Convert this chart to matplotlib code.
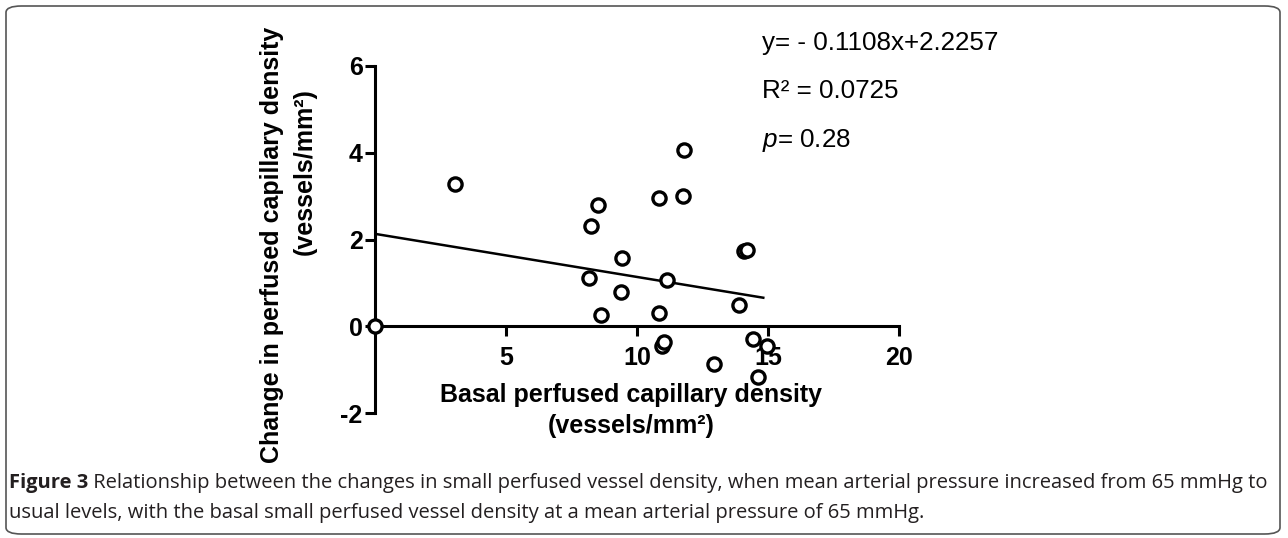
"""
Scatter of change vs basal perfused capillary density, with regression line
"""
import matplotlib.pyplot as plt
from matplotlib.patches import FancyBboxPatch

plt.rcParams['font.family'] = ['Liberation Sans', 'DejaVu Sans']
plt.rcParams['mathtext.fontset'] = 'custom'
plt.rcParams['mathtext.it'] = 'Liberation Sans:italic'
plt.rcParams['mathtext.rm'] = 'Liberation Sans'
plt.rcParams['axes.unicode_minus'] = False

###############################################################################
# Data
basal = [0.0, 3.05, 8.52, 8.23, 10.85, 11.77, 11.79, 9.42, 8.18, 11.13, 9.39,
         8.61, 10.84, 10.94, 11.03, 12.93, 14.10, 14.18, 13.90, 14.44, 14.95,
         14.63]
change = [0.0, 3.27, 2.80, 2.31, 2.95, 3.01, 4.05, 1.57, 1.12, 1.06, 0.79,
          0.27, 0.31, -0.44, -0.35, -0.87, 1.73, 1.76, 0.50, -0.29, -0.46,
          -1.17]

fit_x = [0.0, 14.82]
fit_y = [2.13, 0.66]

x_ticks = [5, 10, 15, 20]
y_ticks = [-2, 0, 2, 4, 6]

stats = ['y= - 0.1108x+2.2257', 'R² = 0.0725', '$p$= 0.28']

caption_bold = 'Figure 3'
caption_1 = (' Relationship between the changes in small perfused vessel density, '
             'when mean arterial pressure increased from 65 mmHg to')
caption_2 = ('usual levels, with the basal small perfused vessel density at a '
             'mean arterial pressure of 65 mmHg.')

###############################################################################
# Plot
W, H = 1288, 538
fig = plt.figure(figsize=(W / 100, H / 100), dpi=100)

# rounded frame around the whole figure
frame = FancyBboxPatch((6 / W, 4 / H), 1274 / W, 528 / H,
                       boxstyle='round,pad=0,rounding_size=0.012',
                       transform=fig.transFigure, fill=False,
                       edgecolor='#555555', linewidth=1.2)
fig.patches.append(frame)

ax = fig.add_axes([375 / W, 1 - 413.3 / H, 524 / W, 347.6 / H])
ax.set_xlim(0, 20)
ax.set_ylim(-2, 6)

ax.plot(fit_x, fit_y, color='k', lw=1.8, zorder=2)
ax.plot(basal, change, 'o', mfc='white', mec='k', ms=9.5, mew=2.4,
        ls='none', clip_on=False, zorder=3)

for s in ['top', 'right']:
    ax.spines[s].set_visible(False)
ax.spines['bottom'].set_position(('data', 0))
ax.spines['left'].set_linewidth(2.2)
ax.spines['bottom'].set_linewidth(2.2)
ax.spines['bottom'].set_zorder(1)

ax.set_xticks(x_ticks)
ax.set_yticks(y_ticks)
ax.tick_params(axis='both', direction='out', length=7, width=2.2,
               labelsize=18)
ax.tick_params(axis='x', pad=7)
ax.tick_params(axis='y', pad=2)
for lab in ax.get_xticklabels() + ax.get_yticklabels():
    lab.set_fontweight('bold')

# regression statistics
for i, s in enumerate(stats):
    fig.text(762 / W, 1 - (43 + i * 48.5) / H, s, fontsize=18.7,
             va='center', ha='left')

# axis labels
lab_kw = dict(fontsize=18, fontweight='bold', ha='center', va='center')
fig.text(631 / W, 1 - 395 / H, 'Basal perfused capillary density', **lab_kw)
fig.text(631 / W, 1 - 426 / H, '(vessels/mm²)', **lab_kw)
fig.text(272 / W, 1 - 245 / H, 'Change in perfused capillary density',
         rotation=90, **lab_kw)
fig.text(305 / W, 1 - 172 / H, '(vessels/mm²)', rotation=90, **lab_kw)

# caption
cap_kw = dict(fontsize=14.5, family=['Open Sans', 'DejaVu Sans'],
              color='#231f20', va='center')
t = fig.text(9 / W, 1 - 483 / H, caption_bold, fontweight='bold', **cap_kw)
fig.canvas.draw()
bb = t.get_window_extent()
fig.text(bb.x1 / W, 1 - 483 / H, caption_1, **cap_kw)
fig.text(9 / W, 1 - 513 / H, caption_2, **cap_kw)

fig.savefig('out.png', dpi=100)
